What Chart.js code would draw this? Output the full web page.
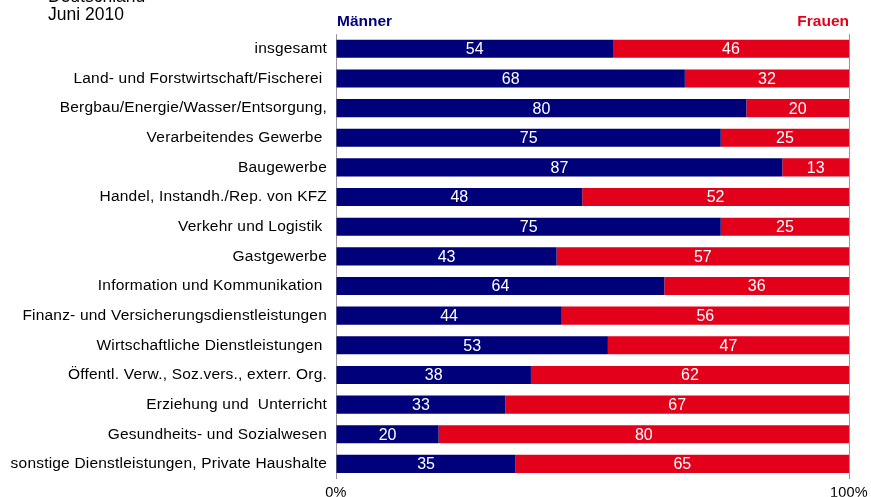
<!DOCTYPE html>
<html>
<head>
<meta charset="utf-8">
<script src="https://cdn.jsdelivr.net/npm/chart.js@4"></script>
<style>
  html, body { margin: 0; padding: 0; background: #fff; }
  #wrap { width: 871px; height: 497px; position: relative; }
</style>
</head>
<body>
<div id="wrap"><canvas id="chart"></canvas></div>
<script>
// Branchen (categories)
const categories = [
    'insgesamt',
    'Land- und Forstwirtschaft/Fischerei ',
    'Bergbau/Energie/Wasser/Entsorgung,',
    'Verarbeitendes Gewerbe ',
    'Baugewerbe',
    'Handel, Instandh./Rep. von KFZ',
    'Verkehr und Logistik ',
    'Gastgewerbe',
    'Information und Kommunikation ',
    'Finanz- und Versicherungsdienstleistungen',
    'Wirtschaftliche Dienstleistungen ',
    'Öffentl. Verw., Soz.vers., exterr. Org.',
    'Erziehung und  Unterricht',
    'Gesundheits- und Sozialwesen',
    'sonstige Dienstleistungen, Private Haushalte'
];

// Anteile in Prozent
const maenner = [54, 68, 80, 75, 87, 48, 75, 43, 64, 44, 53, 38, 33, 20, 35];
const frauen = [46, 32, 20, 25, 13, 52, 25, 57, 36, 56, 47, 62, 67, 80, 65];

// x axis tick labels
const xTicks = [0, 100];

const NAVY = '#00007A';
const RED = '#E2001A';
const FONT = '"Liberation Sans", Arial, sans-serif';

// the original text is set a little wider than Liberation Sans
const spacing = {
    id: 'spacing',
    beforeLayout(chart) { chart.ctx.letterSpacing = '0.2px'; },
    beforeDraw(chart) { chart.ctx.letterSpacing = '0.2px'; }
};

// white numbers inside the bars
const barLabels = {
    id: 'barLabels',
    afterDatasetsDraw(chart) {
        const ctx = chart.ctx;
        ctx.save();
        ctx.letterSpacing = '0px';
        ctx.fillStyle = '#fff';
        ctx.font = '16px ' + FONT;
        ctx.textAlign = 'center';
        ctx.textBaseline = 'middle';
        chart.data.datasets.forEach((ds, di) => {
            chart.getDatasetMeta(di).data.forEach((bar, i) => {
                const x = (bar.x + bar.base) / 2;
                ctx.fillText(ds.data[i], x, bar.y + 1);
            });
        });
        ctx.restore();
    }
};

// header texts: region / date, series names
const headerText = {
    id: 'headerText',
    afterDraw(chart) {
        const ctx = chart.ctx;
        const area = chart.chartArea;
        ctx.save();
        ctx.letterSpacing = '0px';
        ctx.textBaseline = 'alphabetic';
        ctx.fillStyle = '#000';
        ctx.font = '17.5px ' + FONT;
        ctx.textAlign = 'left';
        ctx.fillText('Deutschland', 48, 2);
        ctx.fillText('Juni 2010', 48, 20);
        ctx.font = 'bold 15.5px ' + FONT;
        ctx.fillStyle = NAVY;
        ctx.fillText('Männer', area.left + 1, 26);
        ctx.fillStyle = RED;
        ctx.textAlign = 'right';
        ctx.fillText('Frauen', area.right, 26);
        ctx.restore();
    }
};

new Chart(document.getElementById('chart'), {
    type: 'bar',
    data: {
        labels: categories,
        datasets: [{
            label: 'Männer',
            data: maenner,
            backgroundColor: NAVY,
            barPercentage: 0.61,
            categoryPercentage: 1
        }, {
            label: 'Frauen',
            data: frauen,
            backgroundColor: RED,
            barPercentage: 0.61,
            categoryPercentage: 1
        }]
    },
    options: {
        indexAxis: 'y',
        responsive: true,
        maintainAspectRatio: false,
        animation: false,
        layout: { padding: { top: 34, right: 22, left: 0, bottom: 0 } },
        plugins: {
            legend: { display: false },
            tooltip: { enabled: false }
        },
        scales: {
            x: {
                stacked: true,
                min: 0,
                max: 100,
                afterBuildTicks(axis) {
                    axis.ticks = xTicks.map(v => ({ value: v }));
                },
                afterFit(axis) {
                    axis.height = 18;
                    axis.paddingLeft = 0;
                    axis.paddingRight = 0;
                },
                grid: {
                    drawOnChartArea: true,
                    drawTicks: false,
                    color: '#999'
                },
                border: { display: false },
                ticks: {
                    padding: 6,
                    color: '#000',
                    font: { family: FONT, size: 14.5 },
                    maxRotation: 0,
                    callback: v => v + '%'
                }
            },
            y: {
                stacked: true,
                afterFit(axis) {
                    axis.width = 336;
                },
                grid: { display: false, drawTicks: false },
                border: { display: true, color: '#999' },
                ticks: {
                    padding: 9,
                    color: '#000',
                    font: { family: FONT, size: 15.5 },
                    autoSkip: false
                }
            }
        }
    },
    plugins: [spacing, barLabels, headerText]
});
</script>
</body>
</html>
